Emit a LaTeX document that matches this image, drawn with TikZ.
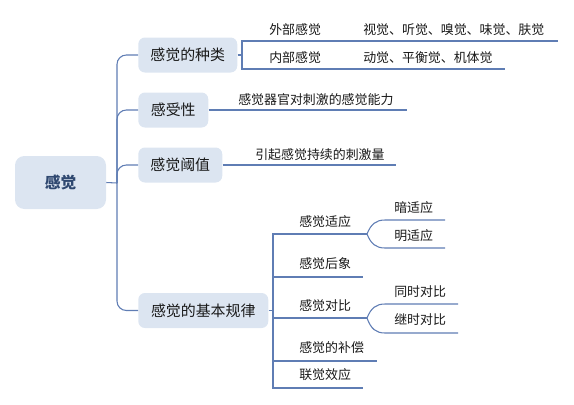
\documentclass[tikz,border=0pt]{standalone}
\usepackage{fontspec}
\setmainfont{Noto Sans CJK SC}
\definecolor{lc}{RGB}{95,125,180}
\definecolor{boxc}{RGB}{220,229,241}
\definecolor{txt}{RGB}{25,25,25}
\definecolor{roottxt}{RGB}{47,72,112}
\begin{document}
\begin{tikzpicture}[x=0.75pt,y=-0.75pt,
  conn/.style={draw=lc, line width=0.8pt},
  topic/.style={fill=boxc, rounded corners=5pt, minimum height=26.25pt, inner sep=0pt, anchor=west, text=txt, font=\fontsize{11.2}{13}\selectfont},
  roottopic/.style={fill=boxc, rounded corners=7pt, minimum width=68.25pt, minimum height=39.75pt, inner sep=0pt, text=roottxt, font=\fontsize{11.8}{13}\selectfont\bfseries},
  sub/.style={inner sep=0pt, anchor=west, text=txt, font=\fontsize{9.7}{11}\selectfont}]
\useasboundingbox (0,0) rectangle (574,404);

% root and main topics
\node[roottopic] (root) at (60.5,182.5) {感觉};
\node[topic, minimum width=74.25pt] (t1) at (138,55) {感觉的种类};
\node[topic, minimum width=52.5pt] (t2) at (138,110) {感受性};
\node[topic, minimum width=63pt] (t3) at (138,165) {感觉阈值};
\node[topic, minimum width=97.5pt] (t4) at (138,310.5) {感觉的基本规律};

\coordinate (trunk) at (117,183);
\draw[conn] (root.east) -- (trunk);
\foreach \t in {t1,t2,t3,t4}{
  \draw[conn, rounded corners=7pt] (trunk) |- (\t.west);
}

% 感觉的种类
\coordinate (b1) at (242,55);
\coordinate (r1) at (558,41);
\coordinate (r2) at (505,69);
\draw[conn] (t1.east) -- (b1);
\draw[conn] (b1) |- (r1);
\draw[conn] (b1) |- (r2);
\node[sub] (n11) at (269,30) {外部感觉};
\node[sub] (n12) at (363,30) {视觉、听觉、嗅觉、味觉、肤觉};
\node[sub] (n21) at (269,58) {内部感觉};
\node[sub] (n22) at (363,58) {动觉、平衡觉、机体觉};

% 感受性
\coordinate (e2) at (407,110);
\draw[conn] (t2.east) -- (e2);
\node[sub] (n3) at (238,99.5) {感觉器官对刺激的感觉能力};

% 感觉阈值
\coordinate (e3) at (396,165);
\draw[conn] (t3.east) -- (e3);
\node[sub] (n4) at (255,154.5) {引起感觉持续的刺激量};

% 感觉的基本规律
\coordinate (b4) at (273,310.5);
\draw[conn] (t4.east) -- (b4);
\coordinate (c1) at (367,234);
\coordinate (c2) at (363,277);
\coordinate (c3) at (367,318);
\coordinate (c4) at (377,361);
\coordinate (c5) at (363,388);
\foreach \c in {c1,c2,c3,c4,c5}{
  \draw[conn] (b4) |- (\c);
}
\node[sub] (m1) at (299,222) {感觉适应};
\node[sub] (m2) at (299,264) {感觉后象};
\node[sub] (m3) at (299,306) {感觉对比};
\node[sub] (m4) at (299,348) {感觉的补偿};
\node[sub] (m5) at (299,375) {联觉效应};

% 感觉适应 children
\coordinate (a1s) at (385,220);
\coordinate (a1e) at (445,220);
\coordinate (a2s) at (385,248);
\coordinate (a2e) at (445,248);
\draw[conn] (c1) .. controls (371,224) and (376,220) .. (a1s) -- (a1e);
\draw[conn] (c1) .. controls (371,244) and (376,248) .. (a2s) -- (a2e);
\node[sub] (k1) at (394,208) {暗适应};
\node[sub] (k2) at (394,236) {明适应};

% 感觉对比 children
\coordinate (d1s) at (385,304);
\coordinate (d1e) at (458,304);
\coordinate (d2s) at (385,333);
\coordinate (d2e) at (458,333);
\draw[conn] (c3) .. controls (371,308) and (376,304) .. (d1s) -- (d1e);
\draw[conn] (c3) .. controls (371,329) and (376,333) .. (d2s) -- (d2e);
\node[sub] (k3) at (394,292) {同时对比};
\node[sub] (k4) at (394,320) {继时对比};
\end{tikzpicture}
\end{document}
